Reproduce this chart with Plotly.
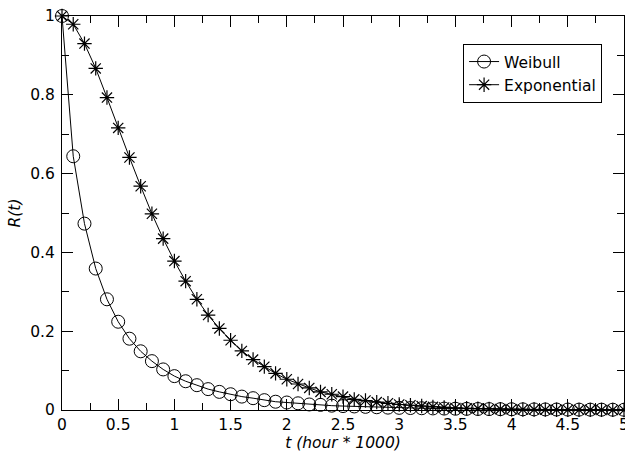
import plotly.graph_objects as go

t = [round(i * 0.1, 1) for i in range(51)]

weibull = [1.000, 0.644, 0.473, 0.359, 0.281, 0.224, 0.181, 0.149, 0.124, 0.103,
           0.086, 0.073, 0.063, 0.053, 0.046, 0.040, 0.034, 0.030, 0.025, 0.021,
           0.019, 0.017, 0.014, 0.013, 0.011, 0.010, 0.009, 0.008, 0.007, 0.006,
           0.0055, 0.005, 0.0045, 0.004, 0.0036, 0.0032, 0.0029, 0.0026, 0.0023, 0.0021,
           0.0019, 0.0017, 0.0015, 0.0014, 0.0012, 0.0011, 0.0010, 0.0009, 0.0008, 0.0007,
           0.0006]

exponential = [1.000, 0.979, 0.930, 0.867, 0.793, 0.716, 0.641, 0.568, 0.498, 0.435,
               0.378, 0.327, 0.281, 0.241, 0.207, 0.177, 0.150, 0.128, 0.110, 0.093,
               0.078, 0.066, 0.056, 0.046, 0.040, 0.034, 0.027, 0.024, 0.020, 0.017,
               0.014, 0.012, 0.010, 0.008, 0.0065, 0.0053, 0.0043, 0.0035, 0.0028, 0.0022,
               0.0018, 0.0014, 0.0011, 0.0009, 0.0007, 0.0005, 0.0004, 0.0003, 0.0002, 0.0002,
               0.0001]

x_ticks = [0, 0.5, 1, 1.5, 2, 2.5, 3, 3.5, 4, 4.5, 5]
x_tick_labels = ["0", "0.5", "1", "1.5", "2", "2.5", "3", "3.5", "4", "4.5", "5"]
y_ticks = [0, 0.2, 0.4, 0.6, 0.8, 1]
y_tick_labels = ["0", "0.2", "0.4", "0.6", "0.8", "1"]

FONT = "DejaVu Sans"
FS = 15.5

fig = go.Figure()
fig.add_trace(go.Scatter(
    x=t, y=weibull, name="Weibull", mode="lines+markers",
    line=dict(color="black", width=1),
    marker=dict(symbol="circle-open", size=13, color="black", line=dict(width=1, color="black")),
    cliponaxis=False,
))
fig.add_trace(go.Scatter(
    x=t, y=exponential, name="Exponential", mode="lines+markers",
    line=dict(color="black", width=1),
    marker=dict(symbol="asterisk-open", size=12, color="black", line=dict(width=1.2, color="black")),
    cliponaxis=False,
))

axis_common = dict(
    showgrid=False, zeroline=False, showline=True, linecolor="black", linewidth=1,
    mirror="ticks", ticks="inside", ticklen=11, tickwidth=1, tickcolor="black",
    tickfont=dict(family=FONT, size=FS, color="black"),
    ticklabeloverflow="allow",
)

fig.update_xaxes(
    range=[0, 5], tickmode="array", tickvals=x_ticks, ticktext=x_tick_labels,
    minor=dict(ticks="inside", ticklen=7, tickwidth=1, tickcolor="black", dtick=0.25, tick0=0),
    title=dict(text="<i>t (hour * 1000)</i>", font=dict(family=FONT, size=FS, color="black"), standoff=4),
    automargin=False,
    **axis_common,
)
fig.update_yaxes(
    range=[0, 1], tickmode="array", tickvals=y_ticks, ticktext=y_tick_labels,
    minor=dict(ticks="inside", ticklen=7, tickwidth=1, tickcolor="black", dtick=0.1, tick0=0),
    title=dict(text="<i>R(t)</i>", font=dict(family=FONT, size=FS, color="black"), standoff=5),
    ticklabelstandoff=3,
    automargin=False,
    **axis_common,
)

fig.update_layout(
    width=625, height=454,
    margin=dict(l=62, r=1, t=16, b=44),
    paper_bgcolor="white", plot_bgcolor="white",
    font=dict(family=FONT, size=FS, color="black"),
    showlegend=True,
    legend=dict(
        x=0.961, y=0.929, xanchor="right", yanchor="top",
        bordercolor="black", borderwidth=1, bgcolor="white",
        font=dict(family=FONT, size=FS, color="black"),
        itemwidth=30, tracegroupgap=0,
    ),
)

fig.write_html(
    "out.html",
    config={"displayModeBar": False},
    post_script="document.body.style.margin='0';document.body.style.overflow='hidden';",
)
